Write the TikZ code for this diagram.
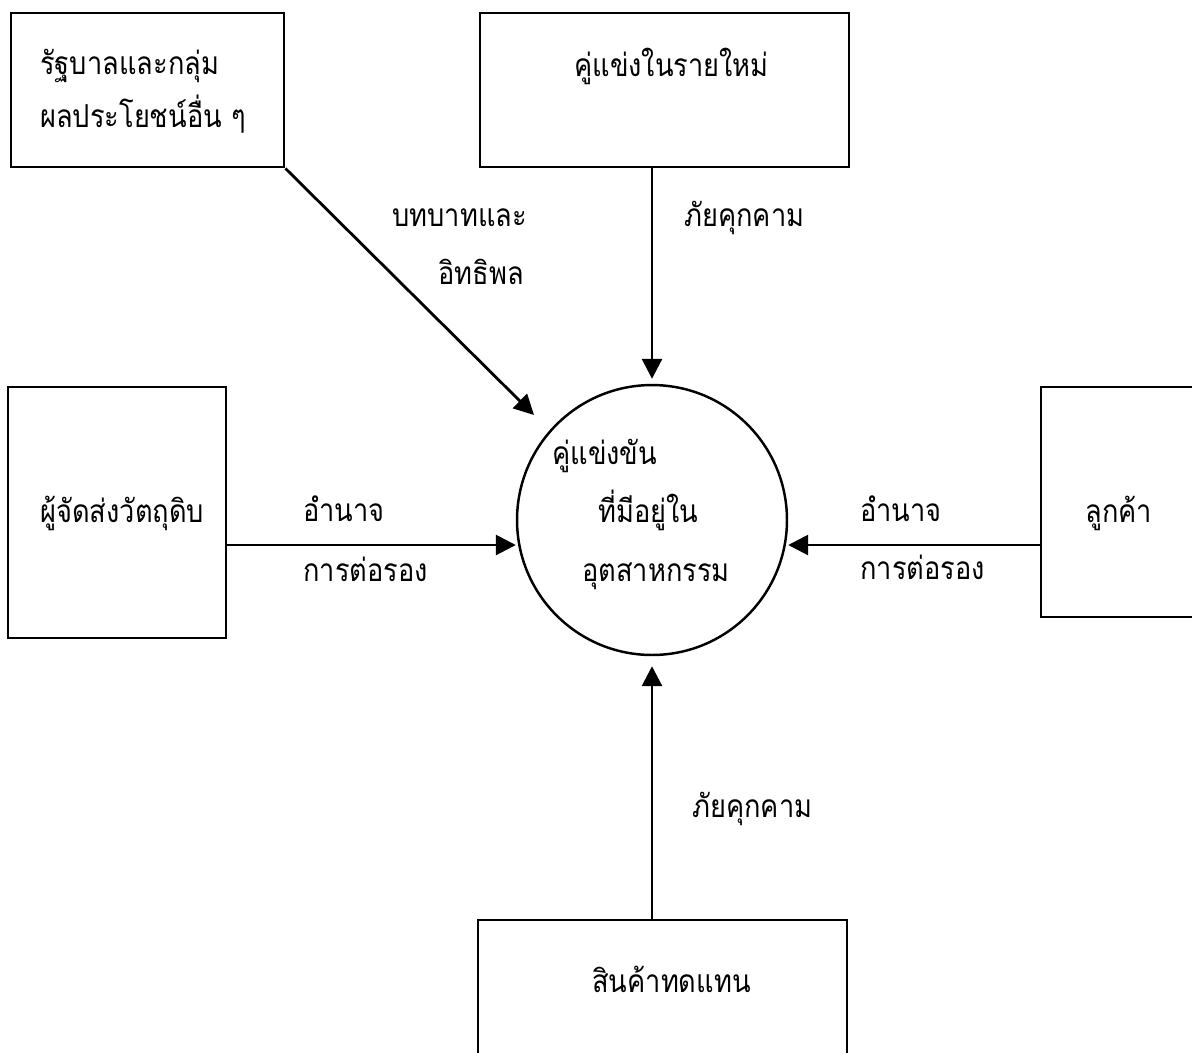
\documentclass[tikz,border=0pt]{standalone}
\usepackage{fontspec}
\newfontfamily\thaifont[Script=Thai, FakeStretch=0.86]{Loma}
\usetikzlibrary{positioning, arrows.meta, calc}

\tikzset{
  box/.style={draw, line width=1.6pt, rectangle},
  hub/.style={draw, line width=1.4pt, circle, minimum size=5.4cm},
  txt/.style={anchor=base west, inner sep=0pt},
  flow/.style={->, line width=1.6pt}
}

\begin{document}
\begin{tikzpicture}[>={Triangle[length=4mm, width=4mm]}, x=0.02cm, y=-0.02cm,
    font=\thaifont\fontsize{18}{21}\selectfont]
        \useasboundingbox (0,0) rectangle (1192,1052);

        % Nodes
        \node[box, minimum width=5.46cm, minimum height=3.08cm] (gov)      at (147.5, 90)  {};
        \node[box, minimum width=7.38cm, minimum height=3.08cm] (entrant)  at (664.5, 90)  {};
        \node[box, minimum width=4.36cm, minimum height=5.02cm] (supplier) at (117, 512.5) {};
        \node[box, minimum width=3.4cm,  minimum height=4.6cm]  (buyer)    at (1126, 502)  {};
        \node[box, minimum width=7.38cm, minimum height=3.0cm]  (subst)    at (662.5, 995) {};
        \node[hub] (rivals) at (652, 520) {};

        \coordinate (midrow) at (0, 545);
        \coordinate (govtip) at (534, 415);

        % Texts
        \node[txt] (govA)    at (40, 74)   {รัฐบาลและกลุ่ม};
        \node[txt] (govB)    at (40, 127)  {ผลประโยชน์อื่น ๆ};
        \node[txt] (entA)    at (574, 76)  {คู่แข่งในรายใหม่};
        \node[txt] (supA)    at (40, 522)  {ผู้จัดส่งวัตถุดิบ};
        \node[txt] (buyA)    at (1085, 522) {ลูกค้า};
        \node[txt] (subA)    at (592, 992) {สินค้าทดแทน};
        \node[txt] (rivA)    at (552, 464) {คู่แข่งขัน};
        \node[txt] (rivB)    at (598, 522) {ที่มีอยู่ใน};
        \node[txt] (rivC)    at (582, 581) {อุตสาหกรรม};
        \node[txt] (roleA)   at (392, 226) {บทบาทและ};
        \node[txt] (roleB)   at (438, 284) {อิทธิพล};
        \node[txt] (threatA) at (684, 226) {ภัยคุกคาม};
        \node[txt] (threatB) at (692, 817) {ภัยคุกคาม};
        \node[txt] (powA)    at (303, 521) {อำนาจ};
        \node[txt] (powB)    at (303, 581) {การต่อรอง};
        \node[txt] (powC)    at (860, 521) {อำนาจ};
        \node[txt] (powD)    at (860, 579) {การต่อรอง};

        % Edges
        \draw[flow] (gov.south east) -- (govtip);
        \draw[flow, shorten >=1mm] (entrant.south -| rivals.north) -- (rivals.north);
        \draw[flow, shorten >=2mm] (subst.north -| rivals.south) -- (rivals.south);
        \draw[flow] (supplier.east |- midrow) -- (rivals.west |- midrow);
        \draw[flow] (buyer.west |- midrow) -- (rivals.east |- midrow);
      \end{tikzpicture}
\end{document}
